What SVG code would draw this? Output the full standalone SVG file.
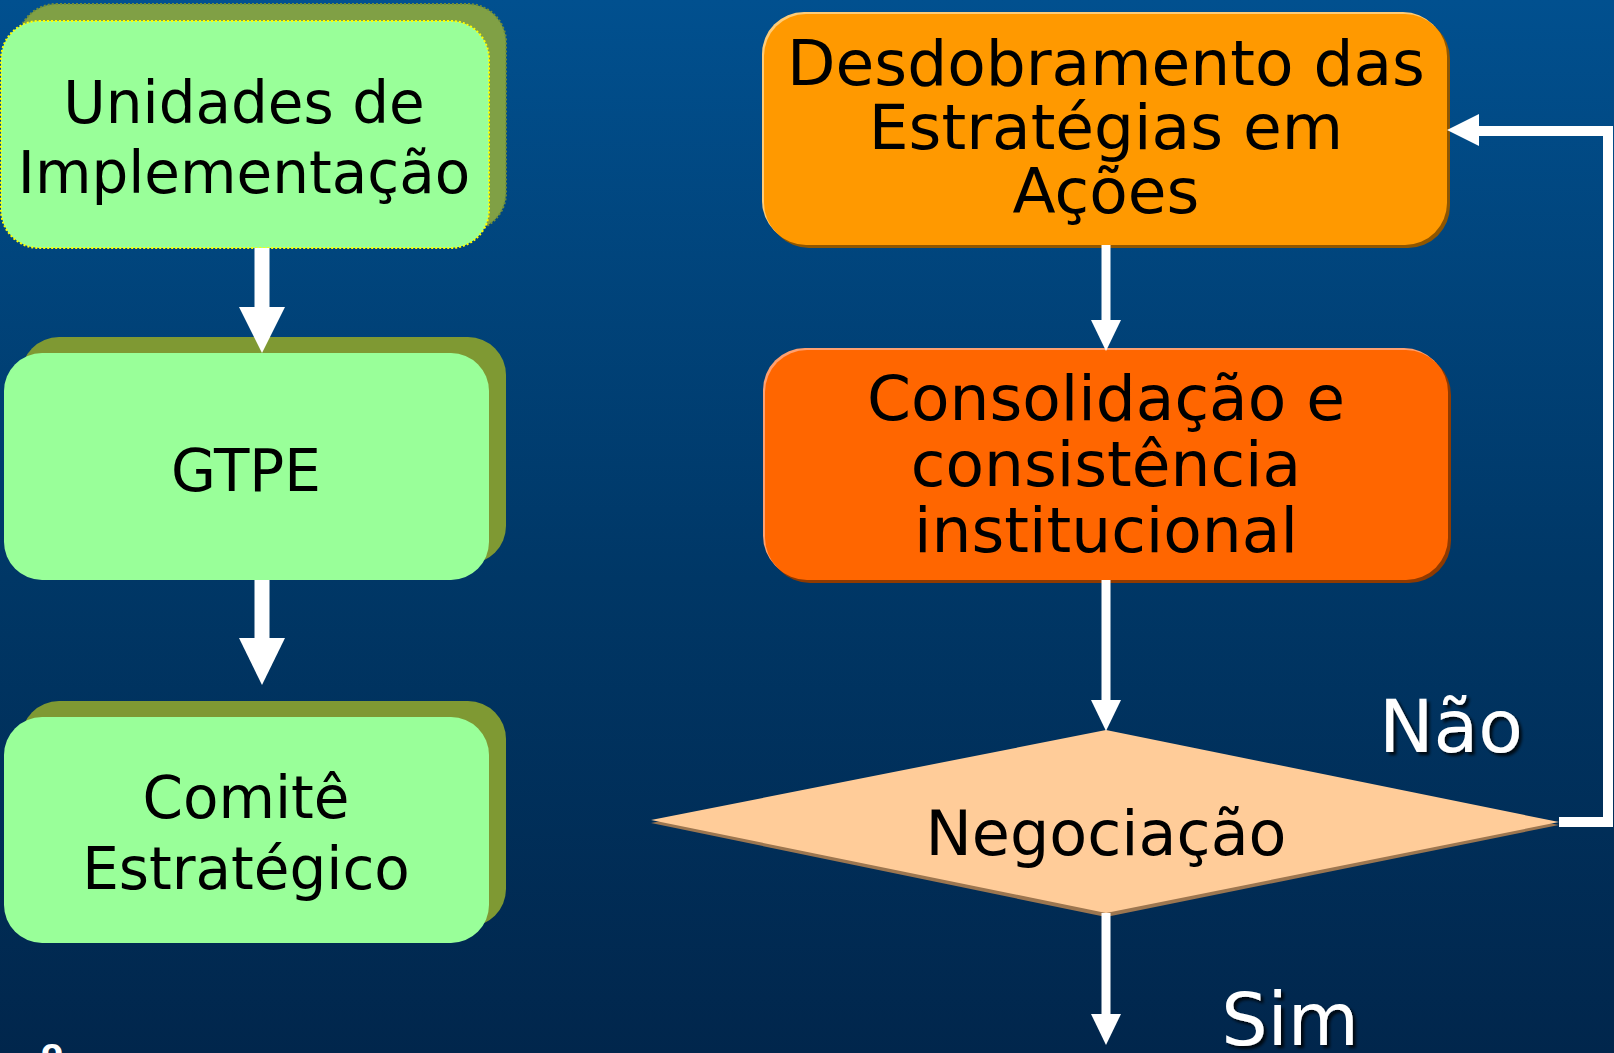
<svg xmlns="http://www.w3.org/2000/svg" width="1614" height="1053" viewBox="0 0 1614 1053">
<defs>
<linearGradient id="bg" x1="0" y1="0" x2="0" y2="1">
<stop offset="0" stop-color="#01508F"/>
<stop offset="0.55" stop-color="#003766"/>
<stop offset="1" stop-color="#01264C"/>
</linearGradient>
<filter id="ts" x="-10%" y="-10%" width="130%" height="130%">
<feDropShadow dx="3" dy="3" stdDeviation="1.5" flood-color="#000000" flood-opacity="0.8"/>
</filter>
<style>
.t{font-family:"DejaVu Sans","Verdana",sans-serif;fill:#000;text-anchor:middle}
.g{font-size:58px}
.o{font-size:63px}
.w{font-family:"DejaVu Sans","Verdana",sans-serif;fill:#fff;text-anchor:middle;font-size:73px}
.front{fill:#99FF99}
.shadow{fill:#7F9933}
.wa{fill:#fff}
.ws{stroke:#fff;fill:none}
</style>
</defs>
<rect x="0" y="0" width="1614" height="1053" fill="url(#bg)"/>

<g id="node-unidades">
<rect x="18" y="4" width="488" height="227" rx="38" fill="#80A045" stroke="#6F8E3A" stroke-width="2" stroke-dasharray="2 2"/>
<rect x="1" y="21" width="488" height="227" rx="38" class="front" stroke="#FFFF00" stroke-width="2" stroke-dasharray="2 2"/>
<text class="t g" x="244" y="123">Unidades de</text>
<text class="t g" x="244" y="193">Implementação</text>
</g>

<g id="node-gtpe">
<rect x="21" y="337" width="485" height="227" rx="38" class="shadow" fill="#7F9A3A"/>
<rect x="4" y="353" width="485" height="227" rx="38" class="front"/>
<text class="t g" x="246" y="491">GTPE</text>
</g>

<g id="node-comite">
<rect x="21" y="701" width="485" height="226" rx="38" class="shadow"/>
<rect x="4" y="717" width="485" height="226" rx="38" class="front"/>
<text class="t g" x="246" y="818">Comitê</text>
<text class="t g" x="246" y="889">Estratégico</text>
</g>

<g id="node-desdobramento">
<rect x="767" y="17" width="683" height="231" rx="42" fill="#8F5600"/>
<rect x="762" y="12" width="683" height="231" rx="42" fill="#FFCC77"/>
<rect x="764" y="14" width="683" height="231" rx="42" fill="#FF9900"/>
<text class="t o" x="1106" y="85">Desdobramento das</text>
<text class="t o" x="1106" y="149">Estratégias em</text>
<text class="t o" x="1106" y="213">Ações</text>
</g>

<g id="node-consolidacao">
<rect x="768" y="353" width="683" height="230" rx="42" fill="#8F3A00"/>
<rect x="763" y="348" width="683" height="230" rx="42" fill="#FFA070"/>
<rect x="765" y="350" width="683" height="230" rx="42" fill="#FF6600"/>
<text class="t o" x="1106" y="420">Consolidação e</text>
<text class="t o" x="1106" y="486">consistência</text>
<text class="t o" x="1106" y="552">institucional</text>
</g>

<g id="node-negociacao">
<polygon points="1106,733 1559,825 1106,917 651,823" fill="#9C7650"/>
<polygon points="1106,730 1559,822 1106,913 651,820" fill="#FFCC99"/>
<text class="t" style="font-size:62px" x="1106" y="855">Negociação</text>
</g>

<g id="connectors">
<rect x="254.5" y="248" width="15" height="60" class="wa"/>
<polygon points="239,307 285,307 262,353" class="wa"/>
<rect x="254.5" y="580" width="15" height="59" class="wa"/>
<polygon points="239,638 285,638 262,685" class="wa"/>

<line x1="1106" y1="245" x2="1106" y2="322" class="ws" stroke-width="9"/>
<polygon points="1091,320 1121,320 1106,351" class="wa"/>
<line x1="1106" y1="580" x2="1106" y2="702" class="ws" stroke-width="9"/>
<polygon points="1091,700 1121,700 1106,731" class="wa"/>
<line x1="1106" y1="913" x2="1106" y2="1016" class="ws" stroke-width="9"/>
<polygon points="1091,1014 1121,1014 1106,1045" class="wa"/>

<polyline points="1559,822 1608,822 1608,131 1477,131" class="ws" stroke-width="10" stroke-linejoin="miter"/>
<polygon points="1447,130 1479,114 1479,146" class="wa"/>
</g>

<g id="labels">
<text class="w" x="1451" y="752" filter="url(#ts)">Não</text>
<text class="w" x="1290" y="1045" filter="url(#ts)">Sim</text>
<text x="52" y="1062" style="font-family:'DejaVu Sans',sans-serif;font-weight:bold;font-size:32px;fill:#fff;text-anchor:middle">o</text>
</g>
</svg>
